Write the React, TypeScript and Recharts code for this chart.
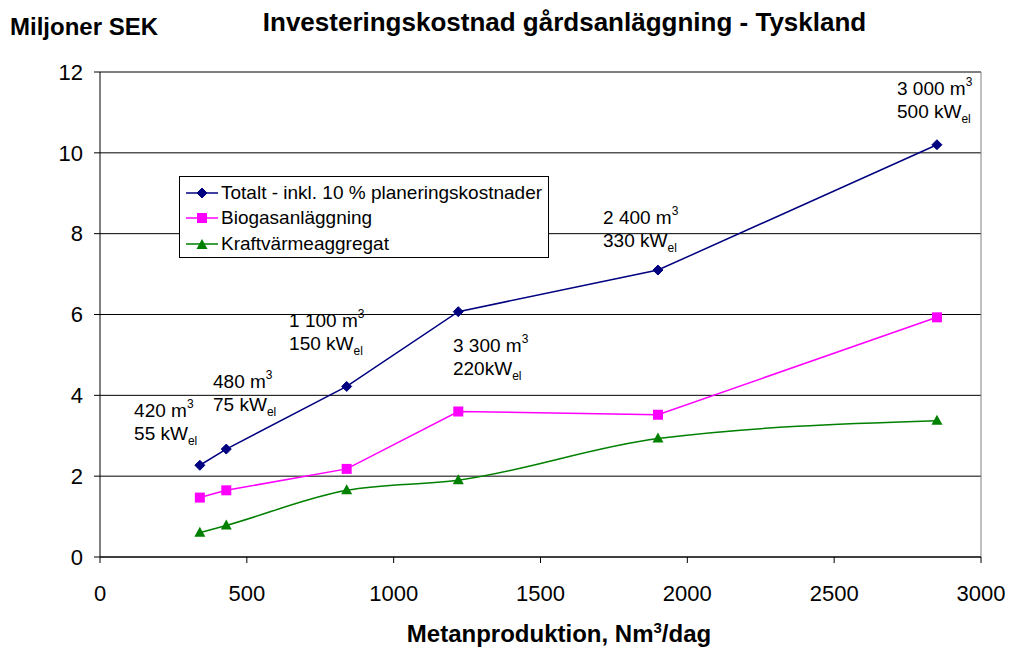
import React from "react";
import { LineChart, Line, XAxis, YAxis, CartesianGrid, ReferenceLine, ReferenceDot } from "recharts";

const flow = [340, 430, 840, 1220, 1900, 2850];
const totalt = [2.27, 2.67, 4.22, 6.07, 7.1, 10.2];
const biogas = [1.47, 1.65, 2.18, 3.6, 3.52, 5.93];
const kraft = [0.6, 0.78, 1.65, 1.9, 2.93, 3.37];

const xTicks = [0, 500, 1000, 1500, 2000, 2500, 3000];
const yTicks = [0, 2, 4, 6, 8, 10, 12];

const seriesNames = ["Totalt - inkl. 10 % planeringskostnader", "Biogasanläggning", "Kraftvärmeaggregat"];

// plant size notes: [x, y] anchor in data units, volume, power
const notes = [
  { x: 116, y: 3.46, vol: "420", kw: "55 kW" },
  { x: 385, y: 4.18, vol: "480", kw: "75 kW" },
  { x: 644, y: 5.69, vol: "1 100", kw: "150 kW" },
  { x: 1202, y: 5.07, vol: "3 300", kw: "220kW" },
  { x: 1713, y: 8.24, vol: "2 400", kw: "330 kW" },
  { x: 2714, y: 11.43, vol: "3 000", kw: "500 kW" },
];

const data = flow.map((f, i) => ({ flow: f, totalt: totalt[i], biogas: biogas[i], kraft: kraft[i] }));

const FONT = "Arial, 'Liberation Sans', sans-serif";
const NAVY = "#000080";
const MAGENTA = "#FF00FF";
const GREEN = "#008000";

const Diamond = ({ cx, cy }: any) => (
  <polygon points={`${cx},${cy - 5} ${cx + 5},${cy} ${cx},${cy + 5} ${cx - 5},${cy}`} fill={NAVY} stroke={NAVY} />
);
const Square = ({ cx, cy }: any) => <rect x={cx - 5} y={cy - 5} width={10} height={10} fill={MAGENTA} />;
const Triangle = ({ cx, cy }: any) => (
  <polygon points={`${cx},${cy - 6} ${cx + 5.5},${cy + 4} ${cx - 5.5},${cy + 4}`} fill={GREEN} />
);

const Note = (n: any) => ({ cx, cy }: any) => (
  <text x={cx} y={cy} fontFamily={FONT} fontSize={19} fill="#000">
    <tspan>{n.vol} m</tspan>
    <tspan fontSize={12} dy={-9}>3</tspan>
    <tspan x={cx} dy={32}>{n.kw}</tspan>
    <tspan fontSize={12} dy={5}>el</tspan>
  </text>
);

const legendIcons = [
  (c: number) => <Diamond cx={c} cy={7} />,
  (c: number) => <Square cx={c} cy={7} />,
  (c: number) => <Triangle cx={c} cy={8} />,
];
const legendColors = [NAVY, MAGENTA, GREEN];

export default function App() {
  return (
    <div style={{ position: "absolute", left: 0, top: 0, width: 1013, height: 651, background: "#fff", fontFamily: FONT }}>
      <div style={{ position: "absolute", left: 10, top: 13, fontSize: 24, fontWeight: "bold", lineHeight: "28px" }}>Miljoner SEK</div>
      <div style={{ position: "absolute", left: 0, width: 1129, top: 7, textAlign: "center", fontSize: 26, fontWeight: "bold", lineHeight: "30px" }}>
        Investeringskostnad gårdsanläggning - Tyskland
      </div>
      <div style={{ position: "absolute", left: 0, width: 1118, top: 620, textAlign: "center", fontSize: 24, fontWeight: "bold", lineHeight: "28px" }}>
        Metanproduktion, Nm<sup style={{ fontSize: 15, verticalAlign: "9px", lineHeight: 0 }}>3</sup>/dag
      </div>
      <LineChart width={1013} height={651} data={data} margin={{ top: 72, right: 32, left: 0, bottom: 0 }}>
        <CartesianGrid vertical={false} stroke="#000" strokeWidth={1} />
        <XAxis
          dataKey="flow"
          type="number"
          domain={[0, 3000]}
          ticks={xTicks}
          height={94}
          tickSize={6}
          tickMargin={22}
          tick={{ fill: "#000", fontSize: 22, fontFamily: FONT }}
          axisLine={{ stroke: "#000" }}
          tickLine={{ stroke: "#000" }}
        />
        <YAxis
          domain={[0, 12]}
          ticks={yTicks}
          width={100}
          tickSize={6}
          tickMargin={11}
          tick={{ fill: "#000", fontSize: 22, fontFamily: FONT }}
          axisLine={{ stroke: "#000" }}
          tickLine={{ stroke: "#000" }}
        />
        <ReferenceLine y={12} stroke="#808080" />
        <ReferenceLine x={3000} stroke="#808080" />
        <Line dataKey="totalt" type="linear" stroke={NAVY} strokeWidth={1.5} dot={<Diamond />} isAnimationActive={false} />
        <Line dataKey="biogas" type="linear" stroke={MAGENTA} strokeWidth={1.5} dot={<Square />} isAnimationActive={false} />
        <Line dataKey="kraft" type="monotone" stroke={GREEN} strokeWidth={1.5} dot={<Triangle />} isAnimationActive={false} />
        {notes.map((n, i) => (
          <ReferenceDot key={i} x={n.x} y={n.y} r={0} shape={Note(n)} ifOverflow="visible" />
        ))}
      </LineChart>
      <div
        style={{
          position: "absolute",
          left: 179,
          top: 176,
          width: 370,
          height: 82,
          border: "1px solid #000",
          background: "#fff",
          fontSize: 19,
          paddingTop: 3,
          boxSizing: "border-box",
        }}
      >
        {seriesNames.map((name, i) => (
          <div key={name} style={{ display: "flex", alignItems: "center", height: 25.5 }}>
            <svg width={40} height={14} style={{ marginLeft: 4 }}>
              <line x1={2} y1={7} x2={34} y2={7} stroke={legendColors[i]} strokeWidth={1.5} />
              {legendIcons[i](18)}
            </svg>
            <span style={{ marginLeft: -3 }}>{name}</span>
          </div>
        ))}
      </div>
    </div>
  );
}
